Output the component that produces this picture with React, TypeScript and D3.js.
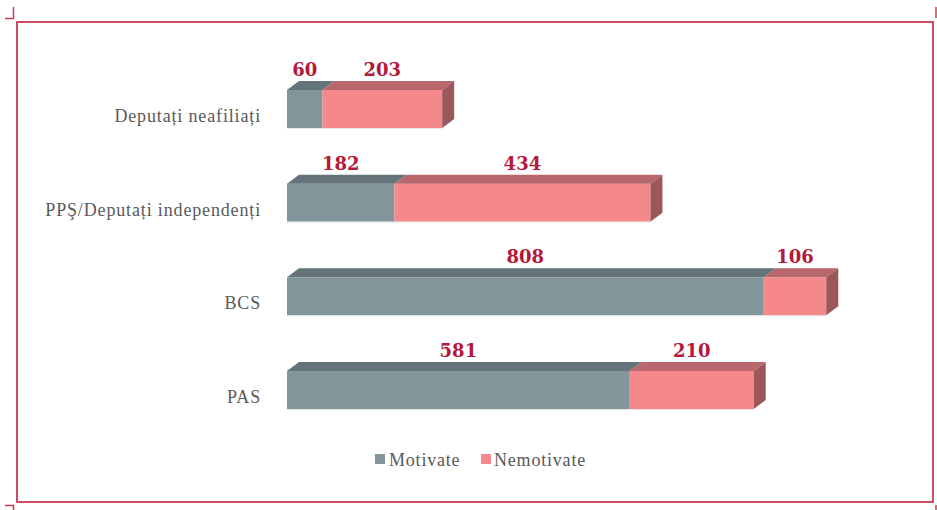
import React from "react";
import * as d3 from "d3";

const categories = ["Deputați neafiliați", "PPŞ/Deputați independenți", "BCS", "PAS"];
const motivate = [60, 182, 808, 581];
const nemotivate = [203, 434, 106, 210];
const seriesNames = ["Motivate", "Nemotivate"];

const W = 937;
const H = 510;
const depthX = 12;
const depthY = 9;
const barH = 38;

const colors = {
  Motivate: { front: "#82959a", top: "#64747a", side: "#56646a" },
  Nemotivate: { front: "#f4888b", top: "#b8686c", side: "#9c575a" },
};
const border = "#cc3a55";
const labelRed = "#b5183a";
const textGrey = "#595959";

const App = () => {
  const x = d3.scaleLinear().domain([0, 1000]).range([287, 877]);
  const y = d3.scalePoint<string>().domain(categories).range([109, 390]);

  const rows = categories.map((c, i) => {
    const vals = [motivate[i], nemotivate[i]];
    let acc = 0;
    const segs = vals.map((v, k) => {
      const s = { name: seriesNames[k], x0: x(acc), x1: x(acc + v), v };
      acc += v;
      return s;
    });
    return { c, segs };
  });

  return (
    <svg width={W} height={H} style={{ position: "absolute", left: 0, top: 0 }}>
      <rect x={0} y={0} width={W} height={H} fill="#fff" />
      <rect x={17} y={22} width={916} height={480} fill="none" stroke={border} strokeWidth={1.8} />
      {/* corner marks */}
      <path d="M5,18.5H13.5V7" fill="none" stroke={border} strokeWidth={1.5} />
      <path d="M936,7V18" fill="none" stroke={border} strokeWidth={1.5} />
      <path d="M5,505.5H13.5V510" fill="none" stroke={border} strokeWidth={1.5} />
      <path d="M936,505V510" fill="none" stroke={border} strokeWidth={1.5} />

      {rows.map((r) => {
        const cy = y(r.c) as number;
        const top = cy - barH / 2;
        const bot = cy + barH / 2;
        const last = r.segs[r.segs.length - 1];
        return (
          <g key={r.c}>
            <text
              x={261}
              y={cy + 13}
              textAnchor="end"
              fontFamily="Liberation Serif, serif"
              fontSize={18}
              letterSpacing={0.85}
              fill={textGrey}
            >
              {r.c}
            </text>
            {r.segs.map((s) => {
              const col = colors[s.name as keyof typeof colors];
              return (
                <g key={s.name}>
                  <rect x={s.x0} y={top} width={s.x1 - s.x0} height={barH} fill={col.front} />
                  <polygon
                    points={`${s.x0},${top} ${s.x0 + depthX},${top - depthY} ${s.x1 + depthX},${top - depthY} ${s.x1},${top}`}
                    fill={col.top}
                  />
                </g>
              );
            })}
            <polygon
              points={`${last.x1},${top} ${last.x1 + depthX},${top - depthY} ${last.x1 + depthX},${bot - depthY} ${last.x1},${bot}`}
              fill={colors[last.name as keyof typeof colors].side}
            />
            <line x1={x(0)} x2={last.x1} y1={bot + 0.5} y2={bot + 0.5} stroke="#e6e6e6" strokeWidth={1} />
            {r.segs.map((s) => (
              <text
                key={"l" + s.name}
                x={(s.x0 + s.x1) / 2}
                y={cy - 33}
                textAnchor="middle"
                fontFamily="DejaVu Serif, serif"
                fontWeight="bold"
                fontSize={18}
                fill={labelRed}
              >
                {s.v}
              </text>
            ))}
          </g>
        );
      })}

      {/* legend */}
      <g fontFamily="Liberation Serif, serif" fontSize={18} letterSpacing={0.8} fill={textGrey}>
        <rect x={375} y={454} width={10} height={10} fill={colors.Motivate.front} />
        <text x={389} y={466}>Motivate</text>
        <rect x={481} y={454} width={10} height={10} fill={colors.Nemotivate.front} />
        <text x={494} y={466}>Nemotivate</text>
      </g>
    </svg>
  );
};

export default App;
